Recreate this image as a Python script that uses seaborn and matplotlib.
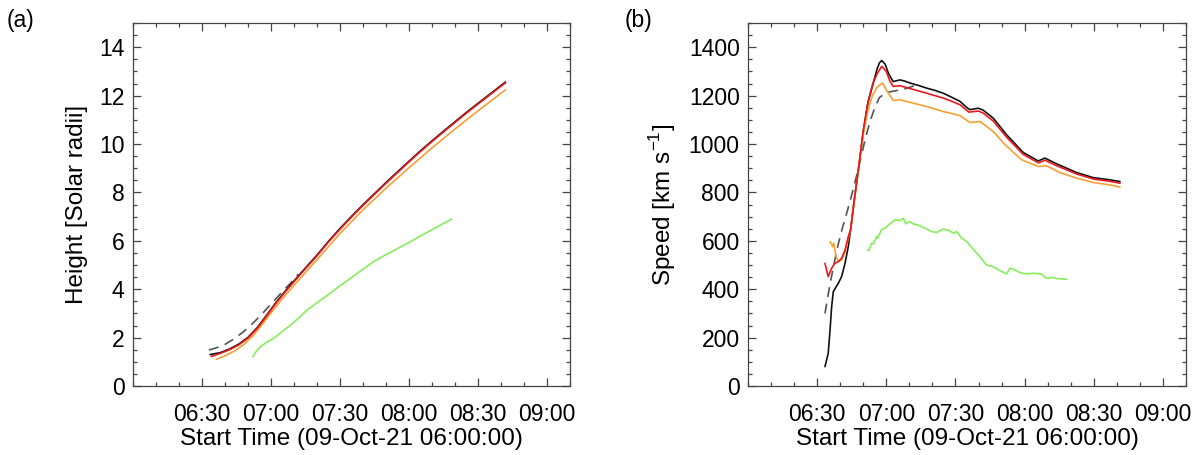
import matplotlib
matplotlib.use('Agg')
import matplotlib.pyplot as plt
import seaborn as sns
from matplotlib.ticker import MultipleLocator, FixedLocator

# time axis: minutes after 09-Oct-21 06:00:00
xticks = [30, 60, 90, 120, 150, 180]
xticklabels = ['06:30', '07:00', '07:30', '08:00', '08:30', '09:00']

# ---- (a) height-time, in solar radii
t_black_h = [33.5, 38, 42, 46, 50, 54, 58, 62, 66, 70, 75, 80, 85, 90, 95, 100, 105, 110,
             115, 120, 125, 130, 135, 140, 145, 150, 155, 160, 162]
h_black = [1.30, 1.38, 1.53, 1.73, 2.01, 2.41, 2.91, 3.43, 3.90, 4.34, 4.88, 5.41, 5.98, 6.51,
           7.01, 7.49, 7.95, 8.41, 8.85, 9.29, 9.72, 10.13, 10.53, 10.92, 11.31, 11.68, 12.05,
           12.42, 12.56]
t_red_h = [34, 38, 42, 46, 50, 54, 58, 62, 66, 70, 75, 80, 85, 90, 95, 100, 105, 110, 115,
           120, 125, 130, 135, 140, 145, 150, 155, 160, 162]
h_red = [1.22, 1.35, 1.50, 1.70, 1.98, 2.38, 2.88, 3.40, 3.87, 4.31, 4.85, 5.38, 5.95, 6.48,
         6.98, 7.46, 7.92, 8.38, 8.82, 9.26, 9.69, 10.10, 10.50, 10.89, 11.28, 11.65, 12.02,
         12.39, 12.53]
t_dash_h = [33, 36, 40, 44, 48, 52, 56, 60, 64, 68, 72]
h_dash = [1.49, 1.57, 1.72, 1.95, 2.24, 2.58, 2.97, 3.38, 3.80, 4.20, 4.62]
t_orange_h = [36.2, 40, 44, 48, 52, 56, 60, 64, 70, 80, 90, 100, 110, 120, 130, 140, 150,
              160, 162]
h_orange = [1.10, 1.25, 1.44, 1.70, 2.06, 2.52, 3.02, 3.50, 4.16, 5.22, 6.30, 7.28, 8.17,
            9.02, 9.84, 10.62, 11.37, 12.10, 12.24]
t_green_h = [52.1, 53.5, 55.4, 58, 61.2, 65, 70, 75.7, 80, 85, 89.8, 95, 100, 104.6, 110,
             115, 119.8, 125, 130, 135, 138.6]
h_green = [1.21, 1.42, 1.62, 1.80, 1.97, 2.26, 2.63, 3.14, 3.44, 3.78, 4.13, 4.48, 4.83,
           5.14, 5.43, 5.68, 5.92, 6.20, 6.46, 6.72, 6.90]

# ---- (b) speed-time, km/s
t_black_v = [33.4, 34.8, 35.6, 36.3, 37.0, 39.2, 40.6, 42.1, 43.5, 44.5, 46, 48, 50, 52, 54,
             56, 57, 58, 59.5, 61, 63, 65.9, 68, 70.3, 74, 77.5, 81, 84.7, 88, 92, 95, 96.3,
             99.9, 102, 106.4, 112.2, 119.4, 125.9, 128.8, 133.9, 142.6, 149.8, 157, 161.4]
v_black = [80, 135, 232, 328, 390, 425, 452, 507, 576, 645, 760, 900, 1050, 1170, 1240, 1310,
           1335, 1345, 1330, 1290, 1258, 1265, 1260, 1252, 1242, 1231, 1222, 1210, 1195, 1176,
           1150, 1142, 1148, 1140, 1107, 1038, 965, 930, 942, 918, 882, 861, 852, 845]
t_red_v = [33.4, 34.8, 36.3, 37.7, 39.2, 40.6, 42.1, 43.5, 44.5, 46, 48, 50, 52, 54, 56, 58,
           60, 61.5, 63, 65.9, 70, 77.5, 84.7, 88, 92, 95.8, 100, 102, 106.4, 112.2, 119.4,
           126, 128.8, 134, 142.6, 150, 157, 161.4]
v_red = [507, 452, 487, 507, 514, 528, 562, 617, 645, 760, 905, 1055, 1170, 1245, 1290, 1321,
         1300, 1262, 1238, 1241, 1230, 1210, 1190, 1178, 1162, 1132, 1136, 1128, 1095, 1028,
         957, 922, 933, 910, 876, 855, 846, 838]
t_dash_v = [33.4, 35, 37, 39, 41, 43, 45, 47, 49, 51, 53, 55, 57, 60, 64, 68, 72]
v_dash = [300, 390, 490, 580, 655, 720, 790, 865, 945, 1025, 1095, 1150, 1192, 1213, 1220,
          1228, 1240]
t_orange_v = [35.6, 36.3, 36.7, 37.2, 38.2, 39.2, 40.6, 42.1, 43.5, 44.5, 46, 48, 50, 52, 54,
              56, 58.4, 60.5, 63, 65.9, 70.3, 77.5, 84.7, 87.6, 92, 96.3, 100.6, 106.4, 111.5,
              118.7, 125.9, 129.6, 135.3, 142.6, 149.8, 157, 161.4]
v_orange = [597, 585, 576, 590, 535, 514, 521, 555, 610, 645, 760, 900, 1040, 1140, 1200, 1235,
            1252, 1215, 1180, 1183, 1172, 1155, 1134, 1128, 1117, 1089, 1093, 1052, 997, 935,
            907, 910, 882, 859, 841, 831, 822]
t_green_v = [51.8, 52.5, 53.6, 54.4, 55.8, 56.2, 58, 59.4, 61.6, 63.8, 66, 67.4, 68.5, 70,
             71.7, 73.9, 76.8, 79.7, 81.9, 84.7, 87.6, 89.1, 90.5, 92.7, 94.9, 97.7, 99.9,
             103.5, 106.4, 109.3, 112.2, 113.6, 115.1, 118, 120.9, 123.8, 127.4, 128.8, 130.3,
             131.7, 133.9, 138.3]
v_green = [562, 560, 590, 587, 617, 610, 648, 652, 670, 687, 684, 693, 670, 680, 670, 665, 652,
           638, 635, 649, 641, 631, 638, 611, 597, 565, 542, 500, 493, 477, 463, 487, 483, 469,
           463, 466, 463, 449, 445, 449, 444, 441]

sns.set_style('ticks')
plt.rcParams['font.family'] = ['Liberation Sans', 'DejaVu Sans']
plt.rcParams['mathtext.fontset'] = 'custom'
plt.rcParams['mathtext.rm'] = 'Liberation Sans'
plt.rcParams['text.color'] = 'black'
plt.rcParams['axes.labelcolor'] = 'black'
plt.rcParams['xtick.labelcolor'] = 'black'
plt.rcParams['ytick.labelcolor'] = 'black'

BLACK = '#111111'
RED = '#e8191c'
ORANGE = '#f5a033'
GREEN = '#86ee5c'
DASH = '#555555'
LW = 1.2

fig = plt.figure(figsize=(12.01, 4.55), dpi=100)
ax_a = fig.add_axes([0.1107, 0.1516, 0.3639, 0.7978])
ax_b = fig.add_axes([0.6228, 0.1516, 0.3647, 0.7978])


def draw(ax, series):
    for x, y, c, ls in series:
        sns.lineplot(x=x, y=y, ax=ax, color=c, lw=LW, linestyle=ls, sort=False,
                     estimator=None, legend=False)


draw(ax_a, [(t_dash_h, h_dash, DASH, (0, (6, 4))),
            (t_black_h, h_black, BLACK, '-'),
            (t_orange_h, h_orange, ORANGE, '-'),
            (t_red_h, h_red, RED, '-'),
            (t_green_h, h_green, GREEN, '-')])
draw(ax_b, [(t_dash_v, v_dash, DASH, (0, (6, 4))),
            (t_black_v, v_black, BLACK, '-'),
            (t_orange_v, v_orange, ORANGE, '-'),
            (t_red_v, v_red, RED, '-'),
            (t_green_v, v_green, GREEN, '-')])


def style(ax, ymax, ymajor, yminor, ylabel):
    ax.set_xlim(0, 190)
    ax.set_ylim(0, ymax)
    ax.xaxis.set_major_locator(FixedLocator(xticks))
    ax.set_xticklabels(xticklabels)
    ax.xaxis.set_minor_locator(MultipleLocator(10))
    ax.yaxis.set_major_locator(MultipleLocator(ymajor))
    ax.yaxis.set_minor_locator(MultipleLocator(yminor))
    ax.set_xlabel('Start Time (09-Oct-21 06:00:00)', fontsize=17.5, labelpad=2)
    ax.set_ylabel(ylabel, fontsize=17.5, labelpad=8)
    ax.tick_params(which='both', direction='in', top=True, right=True,
                   color='#444444', width=0.9)
    ax.tick_params(which='major', length=6)
    ax.tick_params(which='minor', length=3)
    ax.tick_params(axis='x', which='major', pad=12, labelsize=16.5)
    ax.tick_params(axis='y', which='major', pad=6, labelsize=16.5)
    for s in ax.spines.values():
        s.set_color('#444444')
        s.set_linewidth(0.9)


style(ax_a, 15, 2, 0.5, 'Height [Solar radii]')
style(ax_b, 1500, 200, 50, r'Speed [km s$^{\mathregular{-1}}$]')

fig.text(7 / 1201, 1 - 20 / 455, '(a)', fontsize=16.5, va='center', ha='left')
fig.text(625 / 1201, 1 - 20 / 455, '(b)', fontsize=16.5, va='center', ha='left')

fig.savefig('out.png', dpi=100)
